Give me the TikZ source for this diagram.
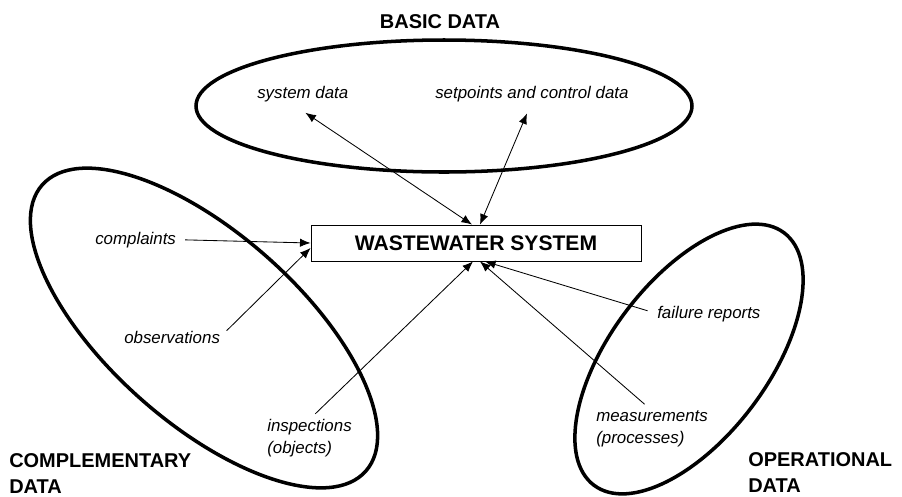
\documentclass[tikz,border=0pt]{standalone}
\usepackage{fontspec}
\setmainfont{Liberation Sans}
\usetikzlibrary{calc, arrows.meta, shapes.geometric}
\tikzset{
    data_ellipse/.style={line width=2.5pt},
    system_box/.style={rectangle, minimum width=8.25cm, minimum height=0.9cm, text centered, draw=black, line width=0.6pt, font=\bfseries\fontsize{15}{18}\selectfont},
    data_label/.style={inner sep=0pt, align=left, font=\itshape\fontsize{12}{15}\selectfont},
    group_title/.style={inner sep=0pt, align=left, font=\bfseries\fontsize{14.2}{17.8}\selectfont},
    arrow/.style={line width=0.6pt, ->, >={Latex[length=7.5pt, width=6pt]}},
    double_arrow/.style={line width=0.6pt, <->, >={Latex[length=7.5pt, width=6pt]}},
}

\begin{document}
\begin{tikzpicture}[x=0.025cm, y=-0.025cm]
      \useasboundingbox (0,0) rectangle (902,496);

      %%%%%%%%%%%%%%%%
      % DATA GROUPS  %
      %%%%%%%%%%%%%%%%
      \draw [data_ellipse] (444,106) ellipse [x radius=248, y radius=66];
      \draw [data_ellipse, rotate around={-41.5:(204,328)}]
            (204,328) ellipse [x radius=216, y radius=95];
      \draw [data_ellipse, rotate around={53:(689,359)}]
            (689,359) ellipse [x radius=158, y radius=79];

      \node (basic_title) [group_title, anchor=base] at (440,28) {BASIC DATA};
      \node (compl_title) [group_title, anchor=base west] at (9,493)
            {COMPLEMENTARY\\DATA};
      \node (oper_title) [group_title, anchor=base west] at (748,492)
            {OPERATIONAL\\DATA};

      %%%%%%%%%%%%%%%%
      % SYSTEM       %
      %%%%%%%%%%%%%%%%
      \node (system) [system_box] at (476,243) {WASTEWATER SYSTEM};

      %%%%%%%%%%%%%%%%
      % DATA ITEMS   %
      %%%%%%%%%%%%%%%%
      \node (system_data) [data_label, anchor=base west] at (257,98) {system data};
      \node (setpoints) [data_label, anchor=base west] at (435,98)
            {setpoints and control data};
      \node (complaints) [data_label, anchor=base west] at (95,244) {complaints};
      \node (observations) [data_label, anchor=base west] at (124,343) {observations};
      \node (inspections) [data_label, anchor=base west] at (267,453)
            {inspections\\(objects)};
      \node (failures) [data_label, anchor=base west] at (657,318) {failure reports};
      \node (measurements) [data_label, anchor=base west] at (596,443)
            {measurements\\(processes)};

      \draw [double_arrow, shorten <=14pt]
            ($(system_data.south west)!0.7!(system_data.south)$) -- ($(system.north)+(-4,0)$);
      \draw [double_arrow, shorten <=9pt]
            (setpoints.south) -- ($(system.north)+(4,0)$);
      \draw [arrow, shorten <=6.4pt] (complaints.east) -- (system.west);
      \draw [arrow, shorten <=6.4pt] (observations.east) -- ($(system.west)+(0,5)$);
      \draw [arrow, shorten <=5.7pt] (inspections.north) -- ($(system.south)+(-3,0)$);
      \draw [arrow, shorten <=7pt] (failures.west) -- ($(system.south)+(9,0)$);
      \draw [arrow, shorten <=7pt] (measurements.north) -- ($(system.south)+(4,0)$);
\end{tikzpicture}
\end{document}
